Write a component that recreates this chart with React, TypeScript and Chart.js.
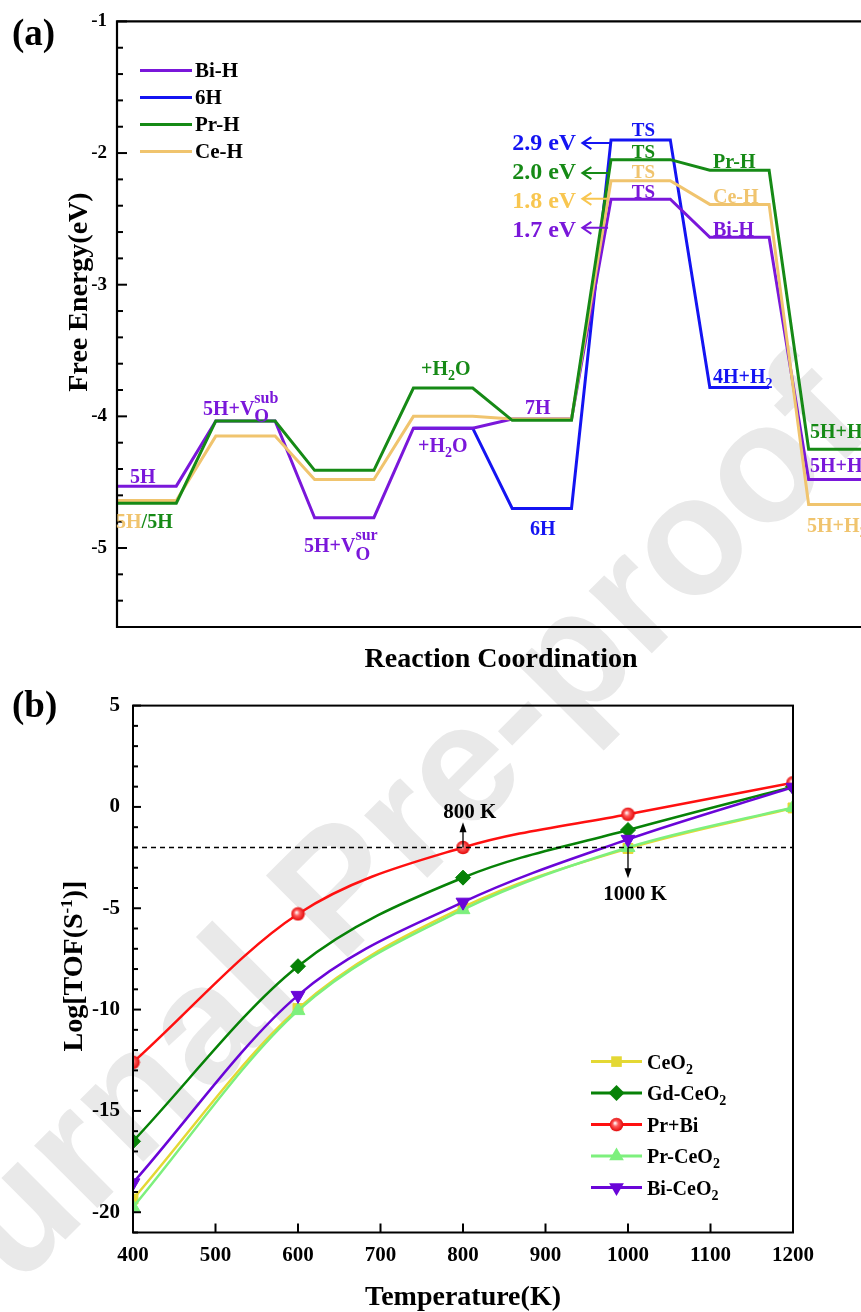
import React, { useEffect, useRef } from 'react';
import { Chart, registerables } from 'chart.js';

Chart.register(...registerables);

const SERIF = '"Liberation Serif", "Times New Roman", Times, serif';

// ---------------- Panel (a): free-energy profile ----------------
const stateNames = ['5H', '5H+VO(sub)', '5H+VO(sur)', '+H2O', '7H / 6H', 'TS', 'Pr-H / Ce-H / Bi-H / 4H+H2', '5H+H2'];
const statePositions = [0, 1, 2, 3, 4, 5, 6, 7];
const levelWidth = 0.6;
const energyBiH = [-4.53, -4.035, -4.77, -4.09, -4.02, -2.35, -2.64, -4.48];
const energy6H = [null, null, null, -4.09, -4.7, -1.9, -3.78, null];
const energyPrH = [-4.66, -4.035, -4.41, -3.785, -4.03, -2.05, -2.13, -4.25];
const energyCeH = [-4.64, -4.15, -4.48, -4.0, -4.02, -2.21, -2.39, -4.67];
const seriesNamesA = ['Bi-H', '6H', 'Pr-H', 'Ce-H'];
const energyMin = -5.6;
const energyMax = -1;
const coordMax = 7.53;
const barrierLabels = ['2.9 eV', '2.0 eV', '1.8 eV', '1.7 eV'];

// ---------------- Panel (b): TOF vs temperature ----------------
const temperatures = [400, 600, 800, 1000, 1200];
const tofCeO2 = [-19.35, -9.95, -4.95, -2.05, -0.05];
const tofGdCeO2 = [-16.5, -7.86, -3.49, -1.14, 1.0];
const tofPrBi = [-12.6, -5.28, -2.0, -0.36, 1.19];
const tofPrCeO2 = [-19.75, -10.05, -5.07, -2.0, -0.03];
const tofBiCeO2 = [-18.55, -9.3, -4.7, -1.6, 0.97];
const seriesNamesB = ['CeO', 'Gd-CeO', 'Pr+Bi', 'Pr-CeO', 'Bi-CeO'];
const seriesSubB = ['2', '2', '', '2', '2'];
const tempMin = 400;
const tempMax = 1200;
const logMin = -21;
const logMax = 5;
const thresholdLog = -2;
const markTemps = [800, 1000];
const markLabels = ['800 K', '1000 K'];

// colours
const C_BI = '#7A17DA';
const C_6H = '#1414F2';
const C_PR = '#168A16';
const C_CE = '#F0C46E';
const C_CE_TXT = '#F8C650';

const B_CE = '#E4D834';
const B_GD = '#078207';
const B_PB = '#FF1010';
const B_PC = '#7DF07D';
const B_BC = '#6A05D8';

type Seg = { t: string; c?: string; s?: number; dy?: number; sup?: string; supS?: number; supDy?: number };

function drawRich(ctx: any, x: number, y: number, segs: Seg[], color: string, size: number, align = 'left', rot = 0) {
  ctx.save();
  ctx.translate(x, y);
  if (rot) ctx.rotate(rot);
  ctx.textBaseline = 'alphabetic';
  ctx.textAlign = 'left';
  const widths = segs.map((sg) => {
    ctx.font = `bold ${sg.s ?? size}px ${SERIF}`;
    let w = ctx.measureText(sg.t).width;
    if (sg.sup) {
      ctx.font = `bold ${sg.supS ?? 16}px ${SERIF}`;
      w = Math.max(w, ctx.measureText(sg.sup).width);
    }
    return w;
  });
  const total = widths.reduce((a, b) => a + b, 0);
  let cx = align === 'center' ? -total / 2 : align === 'right' ? -total : 0;
  segs.forEach((sg, i) => {
    ctx.fillStyle = sg.c ?? color;
    ctx.font = `bold ${sg.s ?? size}px ${SERIF}`;
    ctx.fillText(sg.t, cx, sg.dy ?? 0);
    if (sg.sup) {
      ctx.font = `bold ${sg.supS ?? 16}px ${SERIF}`;
      ctx.fillText(sg.sup, cx, sg.supDy ?? -12);
    }
    cx += widths[i];
  });
  ctx.restore();
}

const h2o: Seg[] = [{ t: '+H' }, { t: '2', s: 14, dy: 5 }, { t: 'O' }];
const h2tail: Seg[] = [{ t: '5H+H' }, { t: '2', s: 14, dy: 5 }];

const labelsA = [
  { x: 0.132, y: -4.508, color: C_BI, size: 20, segs: [{ t: '5H' }] },
  { x: -0.01, y: -4.848, color: C_PR, size: 20, segs: [{ t: '5H', c: C_CE }, { t: '/5H' }] },
  { x: 0.87, y: -3.992, color: C_BI, size: 20, segs: [{ t: '5H+V' }, { t: 'O', s: 19, dy: 7, sup: 'sub' }] },
  { x: 1.893, y: -5.03, color: C_BI, size: 20, segs: [{ t: '5H+V' }, { t: 'O', s: 19, dy: 8, sup: 'sur' }] },
  { x: 3.077, y: -3.689, color: C_PR, size: 20, segs: h2o },
  { x: 3.047, y: -4.273, color: C_BI, size: 20, segs: h2o },
  { x: 4.13, y: -3.985, color: C_BI, size: 20, segs: [{ t: '7H' }] },
  { x: 4.18, y: -4.9, color: C_6H, size: 20, segs: [{ t: '6H' }] },
  { x: 5.21, y: -1.871, color: C_6H, size: 19, segs: [{ t: 'TS' }] },
  { x: 5.21, y: -2.038, color: C_PR, size: 19, segs: [{ t: 'TS' }] },
  { x: 5.21, y: -2.189, color: C_CE, size: 19, segs: [{ t: 'TS' }] },
  { x: 5.21, y: -2.341, color: C_BI, size: 19, segs: [{ t: 'TS' }] },
  { x: 4.0, y: -1.977, color: C_6H, size: 24, segs: [{ t: barrierLabels[0] }] },
  { x: 4.0, y: -2.197, color: C_PR, size: 24, segs: [{ t: barrierLabels[1] }] },
  { x: 4.0, y: -2.417, color: C_CE_TXT, size: 24, segs: [{ t: barrierLabels[2] }] },
  { x: 4.0, y: -2.636, color: C_BI, size: 24, segs: [{ t: barrierLabels[3] }] },
  { x: 6.032, y: -2.114, color: C_PR, size: 20, segs: [{ t: 'Pr-H' }] },
  { x: 6.032, y: -2.379, color: C_CE, size: 20, segs: [{ t: 'Ce-H' }] },
  { x: 6.032, y: -2.629, color: C_BI, size: 20, segs: [{ t: 'Bi-H' }] },
  { x: 6.032, y: -3.75, color: C_6H, size: 20, segs: [{ t: '4H+H' }, { t: '2', s: 14, dy: 5 }] },
  { x: 7.014, y: -4.167, color: C_PR, size: 20, segs: h2tail },
  { x: 7.014, y: -4.424, color: C_BI, size: 20, segs: h2tail },
  { x: 6.984, y: -4.879, color: C_CE, size: 20, segs: h2tail },
];

const arrowsA = [
  { y: -1.924, from: 4.99, to: 4.71, c: C_6H },
  { y: -2.152, from: 4.97, to: 4.71, c: C_PR },
  { y: -2.348, from: 4.97, to: 4.71, c: C_CE_TXT },
  { y: -2.568, from: 4.97, to: 4.71, c: C_BI },
];

function levelPoints(energies: (number | null)[]) {
  const pts: { x: number; y: number }[] = [];
  energies.forEach((e, i) => {
    if (e == null) return;
    pts.push({ x: statePositions[i], y: e }, { x: statePositions[i] + levelWidth, y: e });
  });
  return pts;
}

const isInt = (v: number) => Math.abs(v - Math.round(v)) < 1e-6;

const decorA = {
  id: 'decorA',
  afterDraw(chart: any) {
    const { ctx, chartArea: ca, scales } = chart;
    const xs = scales.x;
    const ys = scales.y;
    ctx.save();
    ctx.strokeStyle = '#000';
    ctx.lineWidth = 2.2;
    ctx.beginPath();
    ctx.moveTo(ca.right + 2, ca.top);
    ctx.lineTo(ca.left, ca.top);
    ctx.lineTo(ca.left, ca.bottom);
    ctx.lineTo(ca.right + 2, ca.bottom);
    ctx.stroke();
    ctx.lineWidth = 2;
    ys.ticks.forEach((t: any) => {
      const p = ys.getPixelForValue(t.value);
      const len = isInt(t.value) ? 10 : 6;
      ctx.beginPath();
      ctx.moveTo(ca.left, p);
      ctx.lineTo(ca.left + len, p);
      ctx.stroke();
    });
    const legendColors = [C_BI, C_6H, C_PR, C_CE];
    seriesNamesA.forEach((name, i) => {
      const yy = ca.top + 49 + i * 27;
      ctx.strokeStyle = legendColors[i];
      ctx.lineWidth = 3;
      ctx.beginPath();
      ctx.moveTo(ca.left + 23, yy);
      ctx.lineTo(ca.left + 75, yy);
      ctx.stroke();
      ctx.fillStyle = '#000';
      ctx.font = `bold 21px ${SERIF}`;
      ctx.textBaseline = 'middle';
      ctx.textAlign = 'left';
      ctx.fillText(name, ca.left + 78, yy + 1);
    });
    labelsA.forEach((l) => {
      drawRich(ctx, xs.getPixelForValue(l.x), ys.getPixelForValue(l.y), l.segs as Seg[], l.color, l.size);
    });
    arrowsA.forEach((a) => {
      const py = ys.getPixelForValue(a.y);
      const x0 = xs.getPixelForValue(a.from);
      const x1 = xs.getPixelForValue(a.to);
      ctx.strokeStyle = a.c;
      ctx.lineWidth = 2;
      ctx.beginPath();
      ctx.moveTo(x0, py);
      ctx.lineTo(x1, py);
      ctx.moveTo(x1 + 9, py - 6);
      ctx.lineTo(x1, py);
      ctx.lineTo(x1 + 9, py + 6);
      ctx.stroke();
    });
    drawRich(ctx, 12, 45, [{ t: '(a)' }], '#000', 37);
    drawRich(ctx, 87, 292, [{ t: 'Free Energy(eV)' }], '#000', 28, 'center', -Math.PI / 2);
    drawRich(ctx, 501, 667, [{ t: 'Reaction Coordination' }], '#000', 28, 'center');
    ctx.restore();
  },
};

function drawMarker(ctx: any, kind: string, x: number, y: number, r: number, color: string, img?: any) {
  if (kind === 'image' && img) {
    ctx.drawImage(img, x - img.width / 2, y - img.height / 2);
    return;
  }
  ctx.fillStyle = color;
  ctx.beginPath();
  if (kind === 'rect') {
    const h = r * Math.SQRT1_2;
    ctx.rect(x - h, y - h, 2 * h, 2 * h);
  } else if (kind === 'rectRot') {
    ctx.moveTo(x, y - r);
    ctx.lineTo(x + r, y);
    ctx.lineTo(x, y + r);
    ctx.lineTo(x - r, y);
    ctx.closePath();
  } else if (kind === 'triangle' || kind === 'triangleDown') {
    const s = kind === 'triangle' ? 1 : -1;
    ctx.moveTo(x, y - s * r);
    ctx.lineTo(x + 0.866 * r, y + s * 0.5 * r);
    ctx.lineTo(x - 0.866 * r, y + s * 0.5 * r);
    ctx.closePath();
  }
  ctx.fill();
}

function makeDecorB(ballImg: any) {
  const markerKinds = ['rect', 'rectRot', 'image', 'triangle', 'triangleDown'];
  const markerSizes = [7.5, 8, 7, 8.5, 8.5];
  const colors = [B_CE, B_GD, B_PB, B_PC, B_BC];
  return {
    id: 'decorB',
    afterDraw(chart: any) {
      const { ctx, chartArea: ca, scales } = chart;
      const xs = scales.x;
      const ys = scales.y;
      ctx.save();
      ctx.strokeStyle = '#000';
      ctx.lineWidth = 2;
      ctx.strokeRect(ca.left, ca.top, ca.right - ca.left, ca.bottom - ca.top);
      ys.ticks.forEach((t: any) => {
        const p = ys.getPixelForValue(t.value);
        const len = t.value % 5 === 0 ? 8 : 5;
        ctx.beginPath();
        ctx.moveTo(ca.left, p);
        ctx.lineTo(ca.left + len, p);
        ctx.stroke();
      });
      xs.ticks.forEach((t: any) => {
        const p = xs.getPixelForValue(t.value);
        ctx.beginPath();
        ctx.moveTo(p, ca.bottom);
        ctx.lineTo(p, ca.bottom - 9);
        ctx.stroke();
      });
      const ty = ys.getPixelForValue(thresholdLog);
      ctx.setLineDash([5, 4]);
      ctx.lineWidth = 1.6;
      ctx.beginPath();
      ctx.moveTo(ca.left, ty);
      ctx.lineTo(ca.right, ty);
      ctx.stroke();
      ctx.setLineDash([]);
      const arrowEnds = [-0.75, -3.52];
      const labelPos = [
        { x: 776, y: -0.55 },
        { x: 970, y: -4.59 },
      ];
      markTemps.forEach((T, i) => {
        const px = xs.getPixelForValue(T);
        const py0 = ty;
        const py1 = ys.getPixelForValue(arrowEnds[i]);
        const dir = py1 < py0 ? -1 : 1;
        ctx.strokeStyle = '#000';
        ctx.fillStyle = '#000';
        ctx.lineWidth = 1.3;
        ctx.beginPath();
        ctx.moveTo(px, py0);
        ctx.lineTo(px, py1 - dir * 8);
        ctx.stroke();
        ctx.beginPath();
        ctx.moveTo(px, py1);
        ctx.lineTo(px - 3.5, py1 - dir * 10);
        ctx.lineTo(px + 3.5, py1 - dir * 10);
        ctx.closePath();
        ctx.fill();
        drawRich(ctx, xs.getPixelForValue(labelPos[i].x), ys.getPixelForValue(labelPos[i].y), [{ t: markLabels[i] }], '#000', 21);
      });
      seriesNamesB.forEach((name, i) => {
        const yy = ca.top + 356 + i * 31.5;
        const lx0 = ca.left + 458;
        const lx1 = ca.left + 509;
        ctx.strokeStyle = colors[i];
        ctx.lineWidth = 3;
        ctx.beginPath();
        ctx.moveTo(lx0, yy);
        ctx.lineTo(lx1, yy);
        ctx.stroke();
        drawMarker(ctx, markerKinds[i], (lx0 + lx1) / 2, yy, markerSizes[i], colors[i], ballImg);
        const segs: Seg[] = [{ t: name }];
        if (seriesSubB[i]) segs.push({ t: seriesSubB[i], s: 14, dy: 5 });
        drawRich(ctx, ca.left + 514, yy + 7, segs, '#000', 20);
      });
      drawRich(ctx, 12, 37, [{ t: '(b)' }], '#000', 37);
      drawRich(
        ctx,
        82,
        286,
        [{ t: 'Log[TOF(S' }, { t: '-1', s: 17, dy: -10 }, { t: ')]' }],
        '#000',
        28,
        'center',
        -Math.PI / 2
      );
      drawRich(ctx, (ca.left + ca.right) / 2, 625, [{ t: 'Temperature(K)' }], '#000', 28, 'center');
      ctx.restore();
    },
  };
}

function makeBall() {
  const c = document.createElement('canvas');
  c.width = 15;
  c.height = 15;
  const g = c.getContext('2d') as CanvasRenderingContext2D;
  const grad = g.createRadialGradient(6, 6, 0.5, 7.5, 7.5, 7.2);
  grad.addColorStop(0, '#fff2f2');
  grad.addColorStop(0.35, '#ff5a5a');
  grad.addColorStop(1, '#e00000');
  g.fillStyle = grad;
  g.beginPath();
  g.arc(7.5, 7.5, 6.8, 0, Math.PI * 2);
  g.fill();
  return c;
}

export default function App() {
  const refA = useRef<HTMLCanvasElement>(null);
  const refB = useRef<HTMLCanvasElement>(null);

  useEffect(() => {
    const tickFont = (size: number) => ({ family: SERIF, size, weight: 'bold' as const });

    const dsA = [
      { label: seriesNamesA[2], data: levelPoints(energyPrH), borderColor: C_PR, order: 1 },
      { label: seriesNamesA[3], data: levelPoints(energyCeH), borderColor: C_CE, order: 2 },
      { label: seriesNamesA[0], data: levelPoints(energyBiH), borderColor: C_BI, order: 3 },
      { label: seriesNamesA[1], data: levelPoints(energy6H), borderColor: C_6H, order: 4 },
    ].map((d) => ({ ...d, borderWidth: 3, pointRadius: 0, fill: false, tension: 0 }));

    const chartA = new Chart(refA.current as HTMLCanvasElement, {
      type: 'line',
      data: { datasets: dsA as any },
      options: {
        responsive: false,
        animation: false,
        devicePixelRatio: 1,
        layout: { padding: { top: 20, left: 0, right: 0, bottom: 0 } },
        plugins: { legend: { display: false }, tooltip: { enabled: false } },
        scales: {
          x: {
            type: 'linear',
            min: 0,
            max: coordMax,
            ticks: { display: false },
            grid: { display: false, drawTicks: false },
            border: { display: false },
            afterFit: (s: any) => {
              s.height = 53;
            },
          },
          y: {
            type: 'linear',
            min: energyMin,
            max: energyMax,
            ticks: {
              stepSize: 0.2,
              autoSkip: false,
              padding: 10,
              color: '#000',
              font: tickFont(19),
              callback: (v: any) => (isInt(v) ? String(Math.round(v)) : ''),
            },
            grid: { display: false, drawTicks: false },
            border: { display: false },
            afterFit: (s: any) => {
              s.width = 117;
            },
          },
        },
      } as any,
      plugins: [decorA],
    });

    const ball = makeBall();
    const pts = (vals: number[]) => temperatures.map((t, i) => ({ x: t, y: vals[i] }));
    const dsB = [
      { label: 'CeO2', data: pts(tofCeO2), borderColor: B_CE, pointStyle: 'rect', pointRadius: 7, order: 5 },
      { label: 'Gd-CeO2', data: pts(tofGdCeO2), borderColor: B_GD, pointStyle: 'rectRot', pointRadius: 7.5, order: 4 },
      { label: 'Pr+Bi', data: pts(tofPrBi), borderColor: B_PB, pointStyle: ball, pointRadius: 7, order: 3 },
      { label: 'Pr-CeO2', data: pts(tofPrCeO2), borderColor: B_PC, pointStyle: 'triangle', pointRadius: 8, order: 2 },
      { label: 'Bi-CeO2', data: pts(tofBiCeO2), borderColor: B_BC, pointStyle: 'triangle', pointRotation: 180, pointRadius: 8, order: 1 },
    ].map((d) => ({
      ...d,
      backgroundColor: d.borderColor,
      pointBackgroundColor: d.borderColor,
      pointBorderColor: d.borderColor,
      pointBorderWidth: 1,
      borderWidth: 2.5,
      cubicInterpolationMode: 'monotone',
      fill: false,
    }));

    const chartB = new Chart(refB.current as HTMLCanvasElement, {
      type: 'line',
      data: { datasets: dsB as any },
      options: {
        responsive: false,
        animation: false,
        devicePixelRatio: 1,
        layout: { padding: { top: 20, left: 0, right: 68, bottom: 0 } },
        plugins: { legend: { display: false }, tooltip: { enabled: false } },
        scales: {
          x: {
            type: 'linear',
            min: tempMin,
            max: tempMax,
            ticks: {
              stepSize: 100,
              autoSkip: false,
              maxRotation: 0,
              padding: 10,
              color: '#000',
              font: tickFont(21),
              callback: (v: any) => String(v),
            },
            grid: { display: false, drawTicks: false },
            border: { display: false },
            afterFit: (s: any) => {
              s.height = 79.5;
            },
          },
          y: {
            type: 'linear',
            min: logMin,
            max: logMax,
            ticks: {
              stepSize: 1,
              autoSkip: false,
              padding: 13,
              color: '#000',
              font: tickFont(21),
              callback: (v: any) => (Math.round(v) % 5 === 0 ? String(Math.round(v)) : ''),
            },
            grid: { display: false, drawTicks: false },
            border: { display: false },
            afterFit: (s: any) => {
              s.width = 133;
            },
          },
        },
      } as any,
      plugins: [makeDecorB(ball)],
    });

    return () => {
      chartA.destroy();
      chartB.destroy();
    };
  }, []);

  return (
    <div
      style={{
        position: 'absolute',
        left: 0,
        top: 0,
        width: 861,
        height: 1312,
        overflow: 'hidden',
        background: '#fff',
      }}
    >
      <div
        style={{
          position: 'absolute',
          left: 335,
          top: 888,
          transform: 'translate(-50%, -50%) rotate(-45deg)',
          fontFamily: '"Liberation Sans", Arial, sans-serif',
          fontWeight: 'bold',
          fontSize: 168,
          lineHeight: 1,
          whiteSpace: 'nowrap',
          color: '#e9e9e9',
          zIndex: 0,
        }}
      >
        Journal Pre-proof
      </div>
      <canvas
        ref={refA}
        width={861}
        height={680}
        style={{ position: 'absolute', left: 0, top: 0, width: 861, height: 680, zIndex: 1 }}
      />
      <canvas
        ref={refB}
        width={861}
        height={632}
        style={{ position: 'absolute', left: 0, top: 680, width: 861, height: 632, zIndex: 1 }}
      />
    </div>
  );
}
